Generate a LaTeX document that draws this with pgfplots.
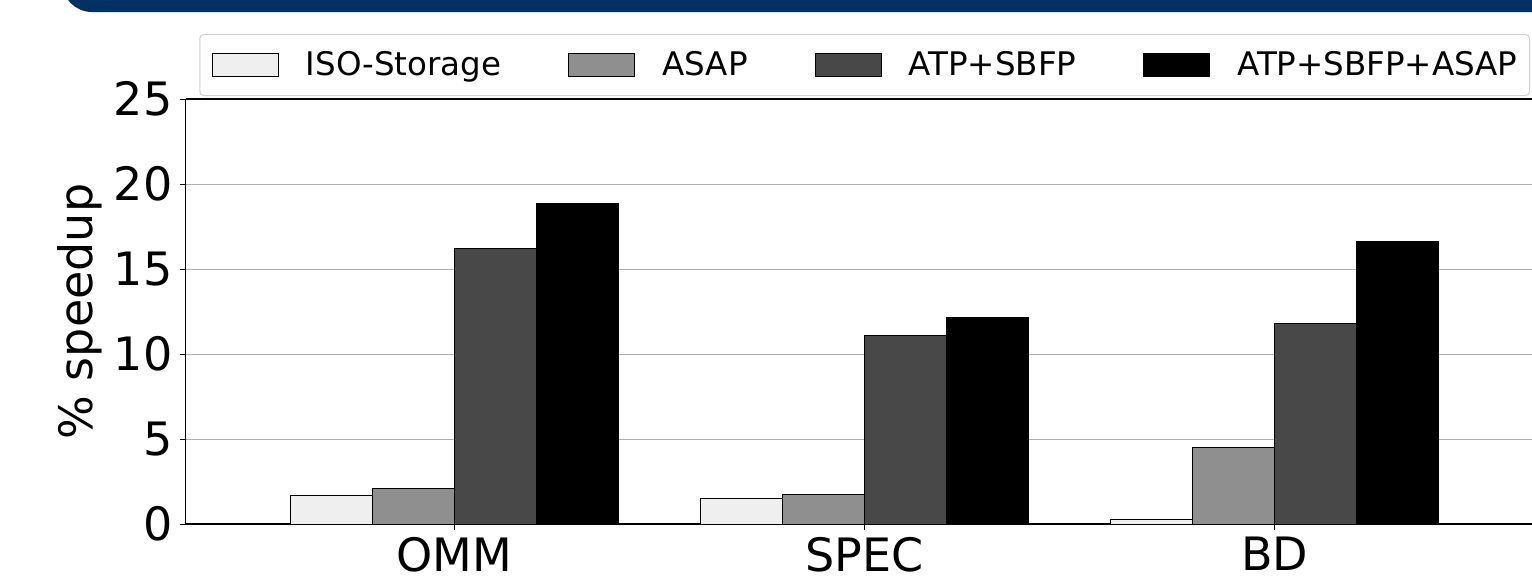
\documentclass[border=0pt]{standalone}
\usepackage{pgfplots}
\pgfplotsset{compat=1.18}
\usepackage{fontspec}
\setmainfont{DejaVu Sans}
\definecolor{isocol}{RGB}{239,239,239}
\definecolor{asapcol}{RGB}{143,143,143}
\definecolor{atpcol}{RGB}{72,72,72}
\definecolor{bandblue}{RGB}{0,48,100}
\definecolor{gridgray}{RGB}{176,176,176}
\definecolor{legframe}{RGB}{208,208,208}
\begin{document}
\begin{tikzpicture}
\fill[bandblue, rounded corners=15pt] (31pt,281.5pt) rectangle (820pt,340pt);
\begin{axis}[
  at={(92.75pt,25.5pt)}, anchor=south west,
  scale only axis, width=673.25pt, height=212.5pt,
  xmin=-0.656, xmax=2.628, ymin=0, ymax=25,
  axis y line*=left,
  axis line style={line width=0.8pt},
  xtick={0,1,2}, xticklabels={OMM,SPEC,BD},
  ytick={0,5,10,15,20,25},
  xtick pos=left,
  tick align=outside,
  major tick length=3pt,
  every tick/.style={black, line width=0.5pt},
  ymajorgrids, grid style={gridgray, line width=0.5pt},
  tick label style={font=\fontsize{23}{27}\selectfont},
  label style={font=\fontsize{23}{27}\selectfont},
  /pgf/number format/assume math mode=true,
  ylabel={\% speedup},
  ylabel style={at={(axis description cs:-0.0784,0.5)}, anchor=center},
  legend columns=4,
  legend cell align=left,
  legend style={at={(axis description cs:0.9985,1.1530)}, anchor=north east,
    draw=legframe, line width=0.5pt, rounded corners=2pt,
    inner xsep=6pt, inner ysep=8.5pt,
    font=\fontsize{16.25}{19}\selectfont,
    nodes={inner sep=0pt},
    /tikz/every odd column/.append style={column sep=13.5pt},
    /tikz/every even column/.append style={column sep=33.5pt}},
  legend image code/.code={\draw[#1, line width=0.5pt, sharp corners] (0pt,-5.75pt) rectangle (33pt,5.75pt);},
]
\addplot[ybar, bar width=0.2, bar shift=-0.3, fill=isocol, draw=black, line width=0.5pt]
  coordinates {(0,1.67) (1,1.49) (2,0.25)};
\addlegendentry{ISO-Storage}
\addplot[ybar, bar width=0.2, bar shift=-0.1, fill=asapcol, draw=black, line width=0.5pt]
  coordinates {(0,2.08) (1,1.76) (2,4.49)};
\addlegendentry{ASAP}
\addplot[ybar, bar width=0.2, bar shift=0.1, fill=atpcol, draw=black, line width=0.5pt]
  coordinates {(0,16.19) (1,11.08) (2,11.82)};
\addlegendentry{ATP+SBFP}
\addplot[ybar, bar width=0.2, bar shift=0.3, fill=black, draw=black, line width=0.5pt]
  coordinates {(0,18.84) (1,12.14) (2,16.63)};
\addlegendentry{ATP+SBFP+ASAP}
\end{axis}
\pgfresetboundingbox
\useasboundingbox (0,0) rectangle (766pt,287.5pt);
\end{tikzpicture}
\end{document}
